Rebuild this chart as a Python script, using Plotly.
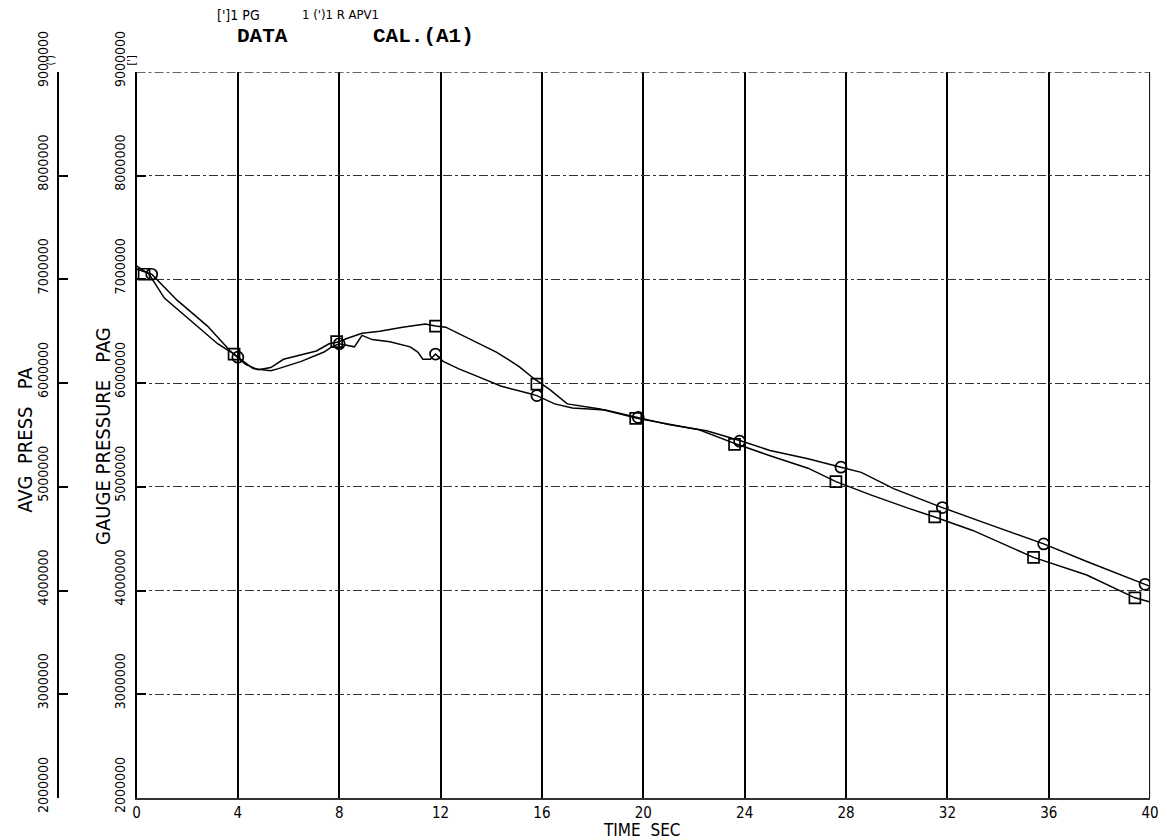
import plotly.graph_objects as go

W, H = 1169, 840

# ---------------- data ----------------
# square-marked curve (PG)
sq_t = [0.0, 0.5, 1.1, 2.3, 3.2, 3.85, 4.3, 4.8, 5.3, 5.8, 6.5, 7.1, 7.6, 8.0, 8.3, 8.9, 9.6,
        10.5, 11.4, 11.8, 12.2, 13.1, 14.2, 15.1, 15.7, 16.3, 17.0, 18.3, 19.8, 22.2, 23.7,
        25.0, 26.5, 27.6, 29.0, 30.5, 31.5, 33.0, 35.4, 37.5, 39.4, 40.0]
sq_p = [7130000, 7050000, 6820000, 6570000, 6380000, 6280000, 6180000, 6130000, 6150000,
        6230000, 6270000, 6310000, 6380000, 6400000, 6430000, 6480000, 6500000, 6540000,
        6570000, 6550000, 6540000, 6430000, 6300000, 6160000, 6040000, 5940000, 5800000,
        5750000, 5660000, 5550000, 5410000, 5300000, 5180000, 5050000, 4920000, 4790000,
        4710000, 4580000, 4320000, 4150000, 3930000, 3890000]

# circle-marked curve (R APV1)
ci_t = [0.0, 0.6, 1.6, 2.8, 3.7, 4.0, 4.6, 5.3, 5.6, 6.5, 7.4, 7.7, 8.0, 8.6, 8.9, 9.3,
        10.0, 10.8, 11.1, 11.3, 11.6, 11.8, 12.1, 12.7, 13.5, 14.4, 15.5, 15.8, 16.5, 17.2,
        18.5, 19.8, 21.0, 22.5, 23.9, 25.0, 26.5, 27.8, 28.6, 29.9, 31.8, 33.5, 35.8, 37.5,
        39.8, 40.0]
ci_p = [7100000, 7050000, 6800000, 6550000, 6310000, 6250000, 6140000, 6120000, 6140000,
        6210000, 6300000, 6350000, 6380000, 6350000, 6460000, 6420000, 6400000, 6350000,
        6300000, 6230000, 6230000, 6280000, 6210000, 6140000, 6060000, 5970000, 5900000,
        5880000, 5800000, 5760000, 5740000, 5670000, 5600000, 5540000, 5440000, 5350000,
        5270000, 5190000, 5140000, 4980000, 4800000, 4650000, 4450000, 4280000, 4060000,
        4040000]

sq_mark_t = [0.3, 3.85, 7.9, 11.8, 15.8, 19.7, 23.6, 27.6, 31.5, 35.4, 39.4]
sq_mark_p = [7050000, 6280000, 6400000, 6550000, 5990000, 5660000, 5410000, 5050000,
             4710000, 4320000, 3930000]
ci_mark_t = [0.6, 4.0, 8.0, 11.8, 15.8, 19.8, 23.8, 27.8, 31.8, 35.8, 39.8]
ci_mark_p = [7050000, 6250000, 6380000, 6280000, 5880000, 5670000, 5440000, 5190000,
             4800000, 4450000, 4060000]

x_ticks = [0, 4, 8, 12, 16, 20, 24, 28, 32, 36, 40]
x_tick_text = ["0", "4", "8", "12", "16", "20", "24", "28", "32", "36", "40"]
y_ticks = [2000000, 3000000, 4000000, 5000000, 6000000, 7000000, 8000000, 9000000]
y_tick_text = ["2000000", "3000000", "4000000", "5000000", "6000000", "7000000",
               "8000000", "9000000"]
x_min, x_max = 0, 40
y_min, y_max = 2000000, 9000000

# ---------------- layout geometry (pixels) ----------------
PL, PR, PT, PB = 134, 1159, 72, 798
AVG_X = 55
ph = PB - PT

def px_x(px):
    return px / W

def px_y(py):
    return (PB - py) / ph

NARROW = "Liberation Sans Narrow, DejaVu Sans Condensed, Arial Narrow, sans-serif"
MONO = "Liberation Mono, Courier New, monospace"
NB = "\u00a0"

fig = go.Figure()

fig.add_trace(go.Scatter(x=sq_t, y=sq_p, mode="lines",
                         line=dict(color="black", width=1.5), hoverinfo="skip"))
fig.add_trace(go.Scatter(x=ci_t, y=ci_p, mode="lines",
                         line=dict(color="black", width=1.5), hoverinfo="skip"))
fig.add_trace(go.Scatter(x=sq_mark_t, y=sq_mark_p, mode="markers",
                         marker=dict(symbol="square-open", size=11, color="black",
                                     line=dict(width=1.7, color="black")),
                         hoverinfo="skip"))
fig.add_trace(go.Scatter(x=ci_mark_t, y=ci_mark_p, mode="markers",
                         marker=dict(symbol="circle-open", size=11, color="black",
                                     line=dict(width=1.7, color="black")),
                         hoverinfo="skip"))
# carrier trace for the outer (AVG PRESS) axis
fig.add_trace(go.Scatter(x=[None], y=[None], yaxis="y2", mode="lines",
                         hoverinfo="skip"))

yaxis_common = dict(
    range=[y_min, y_max], tickvals=y_ticks, ticktext=y_tick_text,
    tickangle=-90, tickfont=dict(family=NARROW, size=14, color="black"),
    ticks="inside", ticklen=9, tickwidth=1.5, tickcolor="black",
    showline=True, linewidth=2, linecolor="black", zeroline=False,
    ticklabelstandoff=4, ticklabelshift=-11, fixedrange=True,
)

fig.update_layout(
    width=W, height=H,
    margin=dict(l=0, r=0, t=PT, b=H - PB),
    paper_bgcolor="white", plot_bgcolor="white",
    showlegend=False,
    xaxis=dict(domain=[px_x(PL), px_x(PR)], range=[x_min, x_max], tickvals=x_ticks,
               ticktext=x_tick_text, showgrid=True, gridcolor="black", gridwidth=2,
               zeroline=False, showline=True, linecolor="#333", linewidth=1.5,
               ticks="", tickfont=dict(family=NARROW, size=15, color="black"),
               fixedrange=True),
    yaxis=dict(anchor="x", showgrid=True, gridcolor="#333", gridwidth=1.3,
               griddash="dashdot", **yaxis_common),
    yaxis2=dict(overlaying="y", anchor="free", position=px_x(AVG_X), side="left",
                showgrid=False, **yaxis_common),
    shapes=[
        dict(type="line", xref="x", yref="y", x0=x_min, x1=x_max, y0=y_max, y1=y_max,
             line=dict(color="#333", width=1.3, dash="dashdot")),
        dict(type="line", xref="x", yref="y", x0=x_max, x1=x_max, y0=y_min, y1=y_max,
             line=dict(color="black", width=2)),
    ],
)

ann = []
# header legend line
ann.append(dict(text="[']1 PG", x=px_x(213), y=px_y(15), xanchor="left",
                yanchor="middle", font=dict(family=NARROW, size=14, color="black")))
ann.append(dict(text="1 (')1 R APV1", x=px_x(299), y=px_y(15), xanchor="left",
                yanchor="middle", font=dict(family=NARROW, size=13, color="black")))
ann.append(dict(text="<b>DATA</b>", x=px_x(234), y=px_y(37), xanchor="left",
                yanchor="middle", font=dict(family=MONO, size=21, color="black")))
ann.append(dict(text="<b>CAL.(A1)</b>", x=px_x(371), y=px_y(37), xanchor="left",
                yanchor="middle", font=dict(family=MONO, size=21, color="black")))
# x title
ann.append(dict(text="TIME" + NB * 2 + "SEC", x=px_x(645), y=px_y(830), xanchor="center",
                yanchor="middle", font=dict(family=NARROW, size=17, color="black")))
# y titles
ann.append(dict(text="AVG" + NB * 2 + "PRESS" + NB * 3 + "PA", x=px_x(21), y=px_y(440),
                xanchor="center", yanchor="middle", textangle=-90,
                font=dict(family=NARROW, size=20, color="black")))
ann.append(dict(text="GAUGE" + NB + "PRESSURE" + NB * 3 + "PAG", x=px_x(100), y=px_y(436),
                xanchor="center", yanchor="middle", textangle=-90,
                font=dict(family=NARROW, size=20, color="black")))
# small symbol tags above axes
ann.append(dict(text="(')", x=px_x(47), y=px_y(60), xanchor="center", yanchor="middle",
                textangle=-90, font=dict(family=NARROW, size=11, color="black")))
ann.append(dict(text="[']", x=px_x(128), y=px_y(60), xanchor="center", yanchor="middle",
                textangle=-90, font=dict(family=NARROW, size=11, color="black")))

for a in ann:
    a.update(xref="paper", yref="paper", showarrow=False)
fig.update_layout(annotations=ann)

fig.write_html("out.html")
